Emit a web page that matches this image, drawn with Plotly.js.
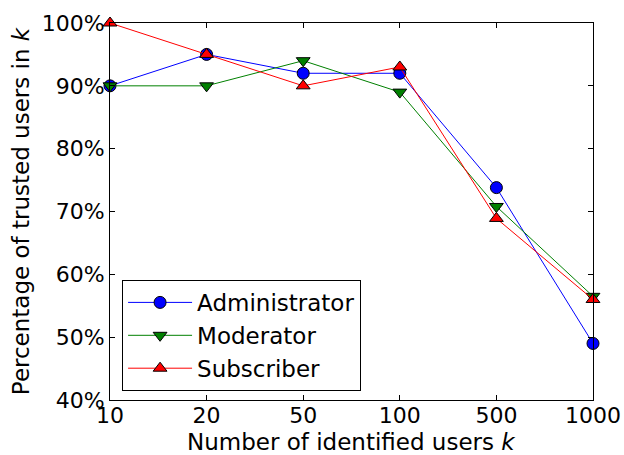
<!DOCTYPE html>
<html><head><meta charset="utf-8">
<script src="https://cdn.plot.ly/plotly-3.0.1.min.js"></script>
<style>body{margin:0;padding:0;background:#fff}#chart{width:624px;height:455px}</style>
</head><body><div id="chart"></div>
<script>
const categories = ["10", "20", "50", "100", "500", "1000"];
const administrator = [90, 95, 92, 92, 73.8, 49];
const moderator = [90, 90, 94, 89, 70.8, 56.5];
const subscriber = [100, 95, 90, 93, 68.9, 56];
const yTicks = [40, 50, 60, 70, 80, 90, 100];
const yTickLabels = yTicks.map(v => v + "%");
const xTitle = 'Number of identified users <i>k</i>';
const yTitle = 'Percentage of trusted users in <i>k</i>';

function series(name, y, color, symbol) {
  return {
    x: categories, y: y, name: name, type: 'scatter', mode: 'lines+markers',
    line: {color: color, width: 1},
    marker: {symbol: symbol, size: 12, color: color, line: {color: '#000', width: 1}},
    cliponaxis: false
  };
}
const data = [
  series('Administrator', administrator, '#0000ff', 'circle'),
  series('Moderator', moderator, '#008000', 'triangle-down'),
  series('Subscriber', subscriber, '#ff0000', 'triangle-up')
];
const axisCommon = {
  showgrid: false, zeroline: false, showline: true, linecolor: '#000', linewidth: 1,
  mirror: 'allticks', ticks: 'inside', ticklen: 5, tickcolor: '#000',
  tickfont: {family: 'DejaVu Sans', size: 22, color: '#000'}
};
const layout = {
  width: 624, height: 455,
  margin: {l: 110, r: 31, t: 23, b: 55},
  paper_bgcolor: '#fff', plot_bgcolor: '#fff',
  font: {family: 'DejaVu Sans', color: '#000'},
  xaxis: Object.assign({}, axisCommon, {
    type: 'category', range: [0, 5], ticklabelstandoff: -4
  }),
  yaxis: Object.assign({}, axisCommon, {
    range: [40, 100], tickvals: yTicks, ticktext: yTickLabels,
    title: {text: yTitle, font: {size: 23}, standoff: 5}
  }),
  annotations: [{
    text: xTitle, xref: 'paper', yref: 'paper', x: 0.5, y: -0.149,
    xanchor: 'center', yanchor: 'bottom', showarrow: false, borderpad: 0,
    font: {family: 'DejaVu Sans', size: 23, color: '#000'}
  }],
  showlegend: true,
  legend: {
    x: 0.025, y: 0.024, xanchor: 'left', yanchor: 'bottom',
    bgcolor: '#fff', bordercolor: '#000', borderwidth: 1,
    font: {family: 'DejaVu Sans', size: 23, color: '#000'},
    itemwidth: 64, tracegroupgap: 4
  }
};
Plotly.newPlot('chart', data, layout, {displayModeBar: false});
</script></body></html>
